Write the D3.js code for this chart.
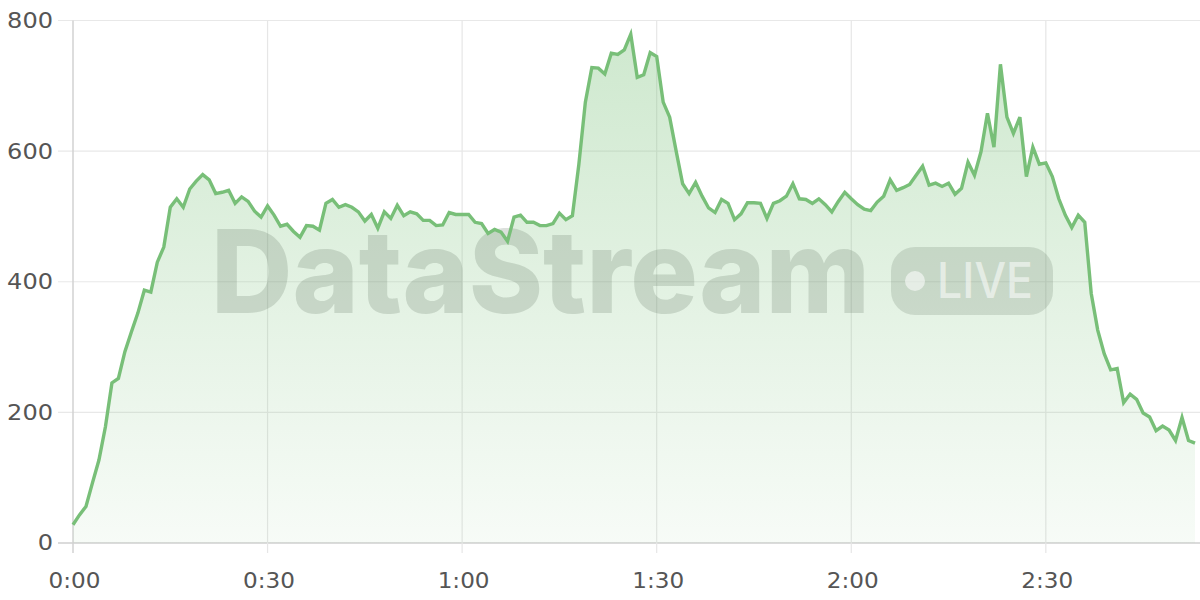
<!DOCTYPE html>
<html>
<head>
<meta charset="utf-8">
<script src="https://cdn.jsdelivr.net/npm/d3@7"></script>
<style>
  html, body { margin: 0; padding: 0; background: #fff; }
  svg { display: block; }
</style>
</head>
<body>
<svg id="chart" width="1200" height="600"></svg>
<script>
// Viewer count sampled every minute from 0:00
const values = [28,43,56,92,127,178,245,252,293,323,352,387,384,430,453,514,527,514,542,554,
  564,556,535,537,540,520,530,523,508,499,516,502,485,488,477,468,486,485,479,520,
  526,514,518,514,507,493,503,482,507,497,517,501,507,504,494,494,486,487,506,503,
  503,503,491,489,474,480,476,462,499,502,491,491,486,486,489,505,495,501,580,675,
  728,727,718,750,748,755,779,713,717,751,745,675,652,600,550,535,552,531,513,506,
  526,520,495,504,521,521,520,497,520,524,531,550,527,526,520,527,518,507,523,537,
  527,518,511,509,522,531,556,540,544,549,563,577,548,551,546,551,534,543,583,563,
  599,658,606,733,652,627,652,561,606,580,582,561,527,502,483,502,491,382,326,290,
  265,267,215,228,220,199,193,172,179,173,157,192,157,153];
const xTickValues = [0, 30, 60, 90, 120, 150];
const xTickLabels = ["0:00", "0:30", "1:00", "1:30", "2:00", "2:30"];
const yTickValues = [0, 200, 400, 600, 800];

const svg = d3.select("#chart");
const mLeft = 73, mRight = 1195, mTop = 20.5, mBottom = 543;
const x = d3.scaleLinear().domain([0, values.length - 1]).range([mLeft, mRight]);
const y = d3.scaleLinear().domain([0, 800]).range([mBottom, mTop]);
const font = "Inter, 'Noto Sans', sans-serif";
const tickFont = "'DejaVu Sans', sans-serif";
const labelWidth = s => s.split("").reduce((w, c) => w + (c === ":" ? 6 : 15.3), 0);

// gradient
const defs = svg.append("defs");
const grad = defs.append("linearGradient").attr("id", "fillGrad")
  .attr("gradientUnits", "userSpaceOnUse").attr("x1", 0).attr("x2", 0)
  .attr("y1", mTop).attr("y2", mBottom);
grad.append("stop").attr("offset", "0%").attr("stop-color", "#7cc27c").attr("stop-opacity", 0.38);
grad.append("stop").attr("offset", "100%").attr("stop-color", "#7cc27c").attr("stop-opacity", 0.06);

// horizontal grid
svg.append("g").selectAll("line").data(yTickValues).join("line")
  .attr("x1", 58).attr("x2", 1200)
  .attr("y1", d => y(d)).attr("y2", d => y(d))
  .attr("stroke", d => d === 0 ? "#cfcfcf" : "#e8e8e8").attr("stroke-width", d => d === 0 ? 1.5 : 1.2);

// vertical grid
svg.append("g").selectAll("line").data(xTickValues).join("line")
  .attr("x1", d => x(d)).attr("x2", d => x(d))
  .attr("y1", mTop).attr("y2", mBottom + 10)
  .attr("stroke", d => d === 0 ? "#d2d2d2" : "#e6e6e6").attr("stroke-width", d => d === 0 ? 1.5 : 1.2);

// area
const area = d3.area().x((d, i) => x(i)).y0(y(0)).y1(d => y(d));
const line = d3.line().x((d, i) => x(i)).y(d => y(d));
svg.append("path").datum(values).attr("d", area).attr("fill", "url(#fillGrad)");

// watermark
const wm = svg.append("g");
wm.append("text").text("DataStream")
  .attr("x", 211).attr("y", 313)
  .attr("font-family", font).attr("font-weight", 800).attr("font-size", 115)
  .attr("textLength", 659).attr("lengthAdjust", "spacingAndGlyphs")
  .attr("fill", "#5f735f").attr("fill-opacity", 0.22);
wm.append("rect").attr("x", 891).attr("y", 247).attr("width", 162).attr("height", 68)
  .attr("rx", 24).attr("fill", "#5f735f").attr("fill-opacity", 0.2);
wm.append("circle").attr("cx", 915).attr("cy", 281).attr("r", 10)
  .attr("fill", "#ffffff").attr("fill-opacity", 0.55);
wm.append("text").text("LIVE")
  .attr("x", 937).attr("y", 298)
  .attr("font-family", font).attr("font-weight", 500).attr("font-size", 49)
  .attr("textLength", 96).attr("lengthAdjust", "spacingAndGlyphs")
  .attr("fill", "#ffffff").attr("fill-opacity", 0.55);

// line
svg.append("path").datum(values).attr("d", line)
  .attr("fill", "none").attr("stroke", "#78bf78").attr("stroke-width", 3.4)
  .attr("stroke-linejoin", "miter");

// y labels
svg.append("g").selectAll("text").data(yTickValues).join("text")
  .attr("x", 53).attr("y", d => y(d)).attr("dy", "0.36em")
  .attr("text-anchor", "end").attr("font-family", tickFont).attr("font-size", 20.5)
  .attr("textLength", d => labelWidth(String(d))).attr("lengthAdjust", "spacingAndGlyphs")
  .attr("fill", "#555").text(d => d);

// x labels
svg.append("g").selectAll("text").data(xTickValues).join("text")
  .attr("x", d => x(d) + 1.5).attr("y", 588)
  .attr("text-anchor", "middle").attr("font-family", tickFont).attr("font-size", 20.5)
  .attr("textLength", (d, i) => labelWidth(xTickLabels[i])).attr("lengthAdjust", "spacingAndGlyphs")
  .attr("fill", "#555").text((d, i) => xTickLabels[i]);
</script>
</body>
</html>
